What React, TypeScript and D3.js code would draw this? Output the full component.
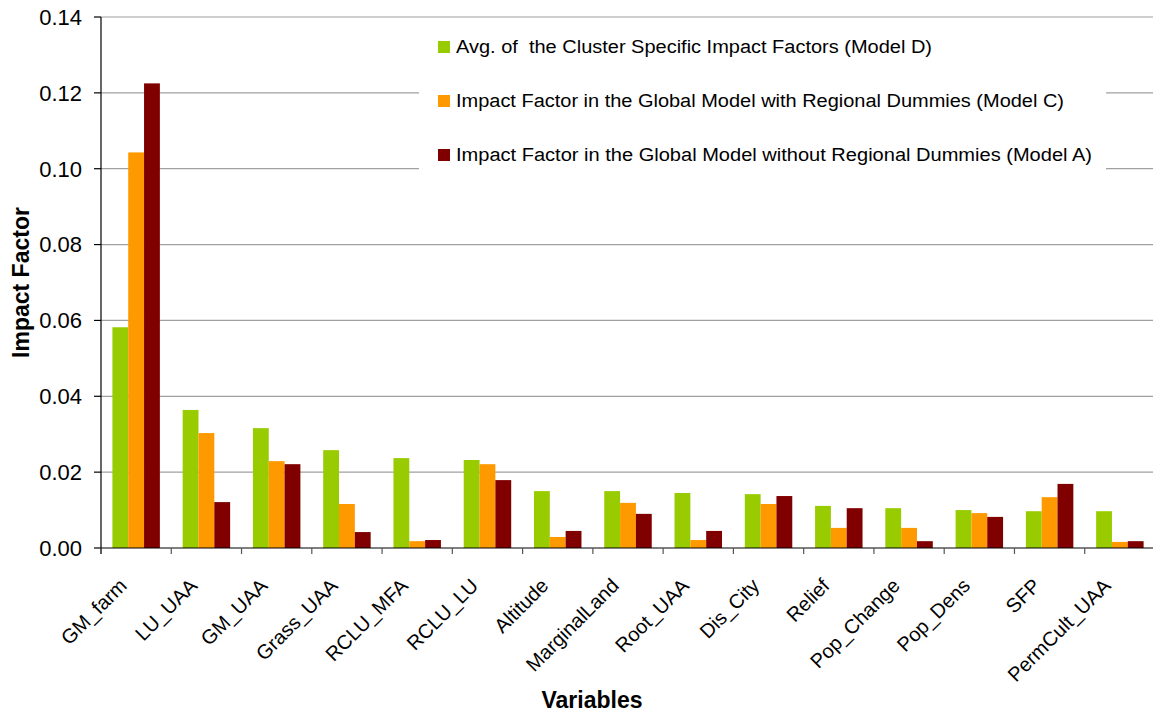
import * as d3 from 'd3';

const categories = ['GM_farm', 'LU_UAA', 'GM_UAA', 'Grass_UAA', 'RCLU_MFA', 'RCLU_LU', 'Altitude', 'MarginalLand', 'Root_UAA', 'Dis_City', 'Relief', 'Pop_Change', 'Pop_Dens', 'SFP', 'PermCult_UAA'];
const modelD = [0.0582, 0.0364, 0.0316, 0.0258, 0.0237, 0.0232, 0.0150, 0.0150, 0.0145, 0.0142, 0.0111, 0.0105, 0.0100, 0.0097, 0.0097];
const modelC = [0.1043, 0.0303, 0.0229, 0.0116, 0.0018, 0.0221, 0.0029, 0.0119, 0.0021, 0.0116, 0.0053, 0.0053, 0.0092, 0.0134, 0.0016];
const modelA = [0.1225, 0.0121, 0.0221, 0.0042, 0.0021, 0.0179, 0.0045, 0.0090, 0.0045, 0.0137, 0.0105, 0.0018, 0.0082, 0.0169, 0.0018];
const seriesNames = [
	'Avg. of  the Cluster Specific Impact Factors (Model D)',
	'Impact Factor in the Global Model with Regional Dummies (Model C)',
	'Impact Factor in the Global Model without Regional Dummies (Model A)',
];
const seriesColors = ['#99cc00', '#ff9900', '#800000'];
const yTicks = [0, 0.02, 0.04, 0.06, 0.08, 0.1, 0.12, 0.14];

const width = 1153;
const height = 715;
const margin = { top: 17, right: -2, bottom: 167, left: 101 };
const font = 'Liberation Sans, Arial, sans-serif';

export default function App() {
	const series = [modelD, modelC, modelA];

	const x = d3.scaleBand()
		.domain(categories)
		.range([margin.left, width - margin.right]);

	const inner = d3.scaleBand()
		.domain(['0', '1', '2'])
		.range([0, x.bandwidth()])
		.paddingInner(0)
		.paddingOuter(0.72);

	const y = d3.scaleLinear()
		.domain([0, 0.14])
		.range([height - margin.bottom, margin.top]);

	const x0 = margin.left;
	const x1 = width - margin.right;
	const yBase = y(0);

	return (
		<svg width={width} height={height} style={{ position: 'absolute', left: 0, top: 0, background: '#fff' }} fontFamily={font}>
			{/* grid */}
			{yTicks.filter(t => t > 0).map(t => (
				<line key={t} x1={x0} x2={x1} y1={y(t)} y2={y(t)} stroke="#a0a0a0" strokeWidth={1.2} />
			))}

			{/* legend box hides grid */}
			<rect x={419} y={24} width={687} height={156} fill="#fff" />

			{/* bars */}
			{series.map((vals, si) => (
				<g key={si} fill={seriesColors[si]}>
					{categories.map((c, i) => (
						<rect
							key={c}
							x={(x(c) as number) + (inner(String(si)) as number)}
							y={y(vals[i])}
							width={inner.bandwidth()}
							height={yBase - y(vals[i])}
						/>
					))}
				</g>
			))}

			{/* y axis */}
			<line x1={x0} x2={x0} y1={margin.top} y2={yBase + 6} stroke="#000" strokeWidth={1.2} />
			{yTicks.map(t => (
				<g key={t}>
					<line x1={x0 - 7} x2={x0} y1={y(t)} y2={y(t)} stroke="#000" strokeWidth={1.2} />
					<text x={x0 - 19} y={y(t)} dy="0.36em" textAnchor="end" fontSize={22} fill="#000">{d3.format('.2f')(t)}</text>
				</g>
			))}

			{/* x axis */}
			<line x1={x0} x2={x1} y1={yBase} y2={yBase} stroke="#000" strokeWidth={1.2} />
			{categories.map(c => (
				<line key={c} x1={x(c) as number} x2={x(c) as number} y1={yBase} y2={yBase + 6} stroke="#555" strokeWidth={1.2} />
			))}
			{categories.map(c => {
				const cx = (x(c) as number) + x.bandwidth() / 2;
				return (
					<text key={c} transform={`translate(${cx - 8},${yBase + 39}) rotate(-45)`} textAnchor="end" fontSize={20} fill="#000">{c}</text>
				);
			})}

			{/* legend */}
			{seriesNames.map((n, i) => (
				<g key={n} transform={`translate(438,${47 + i * 54})`}>
					<rect x={0} y={-6} width={12} height={12} fill={seriesColors[i]} />
					<text x={18} y={0} dy="0.36em" fontSize={18} fill="#000" style={{ whiteSpace: 'pre' }} textLength={[476, 608, 636][i]} lengthAdjust="spacingAndGlyphs">{n}</text>
				</g>
			))}

			{/* titles */}
			<text transform={`translate(28.5,${(margin.top + yBase) / 2}) rotate(-90)`} textAnchor="middle" fontSize={23} fontWeight="bold">Impact Factor</text>
			<text x={592} y={708} textAnchor="middle" fontSize={23} fontWeight="bold">Variables</text>
		</svg>
	);
}
